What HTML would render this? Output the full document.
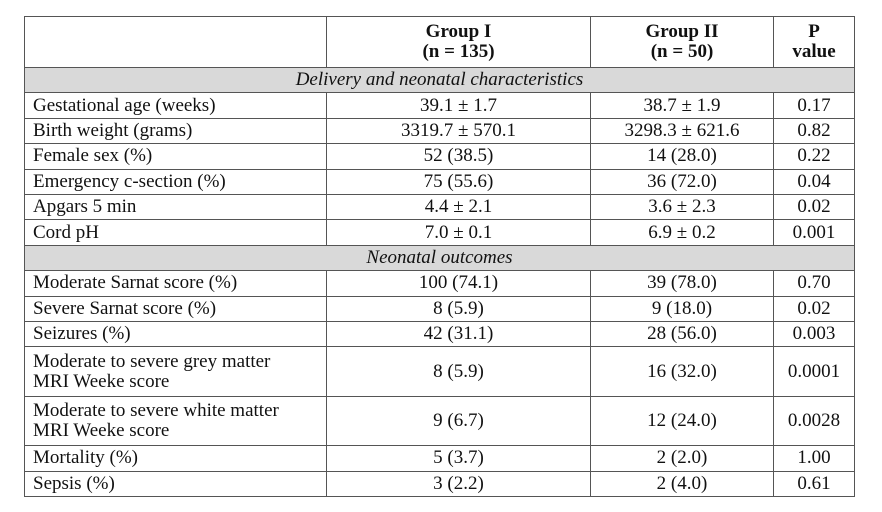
<!DOCTYPE html>
<html><head><meta charset="utf-8"><style>
body{margin:0;width:882px;height:512px;background:#fff;overflow:hidden;font-family:"Liberation Serif",serif;color:#111}
table{position:absolute;left:24px;top:16px;width:830px;border-collapse:collapse;table-layout:fixed;font-size:19px}
td{border:1px solid #555;padding:0 8px;line-height:20px;text-align:center;white-space:nowrap}
td.l{text-align:left}
tr.r td{height:24.4px;padding-top:0;padding-bottom:0}
tr.d td{height:48.5px}
tr.h td{height:50px;font-weight:bold}
tr.s td{background:#d9d9d9;font-style:italic;height:24.4px}
</style></head><body>
<table>
<colgroup><col style="width:302px"><col style="width:264px"><col style="width:183px"><col style="width:81px"></colgroup>
<tr class="h"><td></td><td>Group I<br>(n = 135)</td><td>Group II<br>(n = 50)</td><td>P<br>value</td></tr>
<tr class="s"><td colspan="4">Delivery and neonatal characteristics</td></tr>
<tr class="r"><td class="l">Gestational age (weeks)</td><td>39.1 ± 1.7</td><td>38.7 ± 1.9</td><td>0.17</td></tr>
<tr class="r"><td class="l">Birth weight (grams)</td><td>3319.7 ± 570.1</td><td>3298.3 ± 621.6</td><td>0.82</td></tr>
<tr class="r"><td class="l">Female sex (%)</td><td>52 (38.5)</td><td>14 (28.0)</td><td>0.22</td></tr>
<tr class="r"><td class="l">Emergency c-section (%)</td><td>75 (55.6)</td><td>36 (72.0)</td><td>0.04</td></tr>
<tr class="r"><td class="l">Apgars 5 min</td><td>4.4 ± 2.1</td><td>3.6 ± 2.3</td><td>0.02</td></tr>
<tr class="r"><td class="l">Cord pH</td><td>7.0 ± 0.1</td><td>6.9 ± 0.2</td><td>0.001</td></tr>
<tr class="s"><td colspan="4">Neonatal outcomes</td></tr>
<tr class="r"><td class="l">Moderate Sarnat score (%)</td><td>100 (74.1)</td><td>39 (78.0)</td><td>0.70</td></tr>
<tr class="r"><td class="l">Severe Sarnat score (%)</td><td>8 (5.9)</td><td>9 (18.0)</td><td>0.02</td></tr>
<tr class="r"><td class="l">Seizures (%)</td><td>42 (31.1)</td><td>28 (56.0)</td><td>0.003</td></tr>
<tr class="d"><td class="l">Moderate to severe grey matter<br>MRI Weeke score</td><td>8 (5.9)</td><td>16 (32.0)</td><td>0.0001</td></tr>
<tr class="d"><td class="l">Moderate to severe white matter<br>MRI Weeke score</td><td>9 (6.7)</td><td>12 (24.0)</td><td>0.0028</td></tr>
<tr class="r"><td class="l">Mortality (%)</td><td>5 (3.7)</td><td>2 (2.0)</td><td>1.00</td></tr>
<tr class="r"><td class="l">Sepsis (%)</td><td>3 (2.2)</td><td>2 (4.0)</td><td>0.61</td></tr>
</table>
</body></html>
